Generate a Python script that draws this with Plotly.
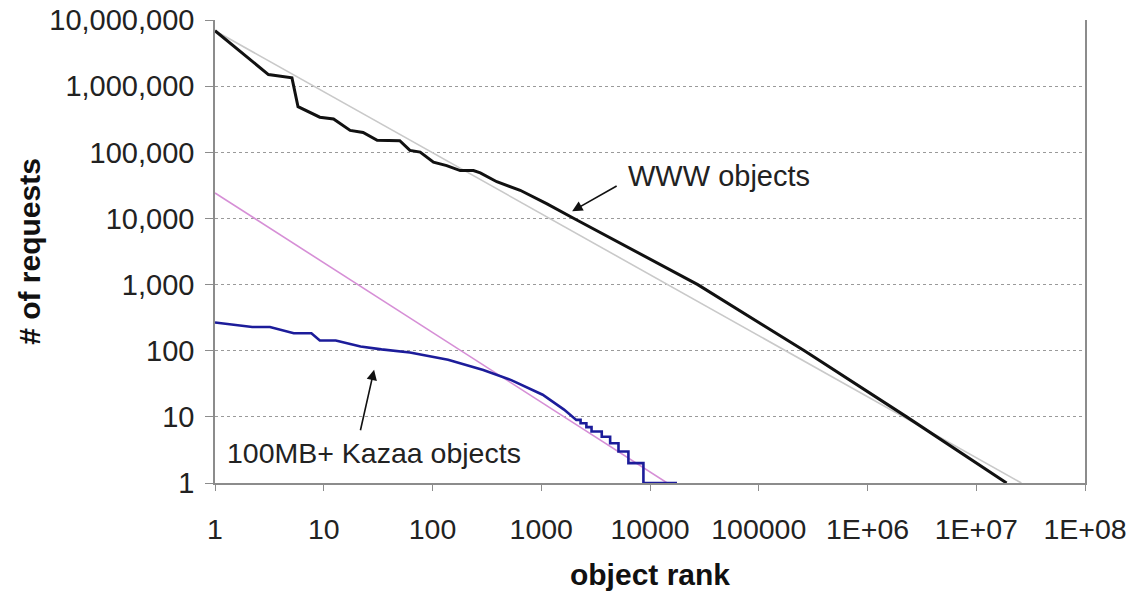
import plotly.graph_objects as go

# ---------------- data ----------------
www_rank = [1, 3.1, 5.1, 5.8, 9.2, 12.3, 17.5, 23, 31, 50, 62, 77, 102, 135, 180, 238, 275,
            390, 640, 1120, 2000, 3480, 27500, 263000, 2290000, 19000000]
www_requests = [6.9e6, 1.5e6, 1.34e6, 4.9e5, 3.4e5, 3.2e5, 2.15e5, 2.0e5, 1.52e5, 1.5e5, 1.07e5,
                1.01e5, 7.1e4, 6.3e4, 5.3e4, 5.3e4, 4.9e4, 3.6e4, 2.67e4, 1.68e4, 1.0e4, 6150,
                1000, 100, 10, 1]

www_fit_rank = [1, 2.6e7]
www_fit_requests = [6.9e6, 1]

kazaa_rank = [1, 2.2, 3.2, 5.3, 7.7, 9.2, 12.9, 21.8, 34, 62, 139, 293, 530, 1030, 1620,
              2100, 2300, 2300, 2600, 2600, 2900, 2900, 3600, 3600, 4300, 4300, 5130, 5130,
              6330, 6330, 8700, 8700, 17700]
kazaa_requests = [268, 228, 228, 184, 184, 143, 143, 116, 105, 94, 73, 51, 36, 21.6, 12.9,
                  9, 9, 8, 8, 7, 7, 6, 6, 5, 5, 4, 4, 3, 3, 2, 2, 1, 1]

kazaa_fit_rank = [1, 14400]
kazaa_fit_requests = [24300, 1]

x_tickvals = [1, 10, 100, 1000, 1e4, 1e5, 1e6, 1e7, 1e8]
x_ticktext = ["1", "10", "100", "1000", "10000", "100000", "1E+06", "1E+07", "1E+08"]
y_tickvals = [1, 10, 100, 1000, 1e4, 1e5, 1e6, 1e7]
y_ticktext = ["1", "10", "100", "1,000", "10,000", "100,000", "1,000,000", "10,000,000"]

FONT = "Liberation Sans, Arial, Helvetica, sans-serif"
TXT = "#222222"

fig = go.Figure()
fig.add_trace(go.Scatter(x=www_fit_rank, y=www_fit_requests, mode="lines",
                         line=dict(color="#c9c9c9", width=1.6), hoverinfo="skip"))
fig.add_trace(go.Scatter(x=kazaa_fit_rank, y=kazaa_fit_requests, mode="lines",
                         line=dict(color="#d68fd6", width=1.6), hoverinfo="skip"))
fig.add_trace(go.Scatter(x=kazaa_rank, y=kazaa_requests, mode="lines",
                         line=dict(color="#1c1c9a", width=2.6)))
fig.add_trace(go.Scatter(x=www_rank, y=www_requests, mode="lines",
                         line=dict(color="#111111", width=3)))

# annotations (positions in log10 axis units)
fig.add_annotation(x=3.284, y=4.11, xref="x", yref="y", text="", showarrow=True,
                   ax=46, ay=-26, arrowhead=2, arrowsize=1.3, arrowwidth=1.6, arrowcolor="#111")
fig.add_annotation(x=4.637, y=4.638, xref="x", yref="y", text="WWW objects", showarrow=False,
                   font=dict(family=FONT, size=29, color=TXT))
fig.add_annotation(x=1.463, y=1.712, xref="x", yref="y", text="", showarrow=True,
                   ax=-14, ay=62, arrowhead=2, arrowsize=1.3, arrowwidth=1.6, arrowcolor="#111")
fig.add_annotation(x=1.463, y=0.46, xref="x", yref="y", text="100MB+ Kazaa objects",
                   showarrow=False, font=dict(family=FONT, size=28.5, color=TXT))

fig.update_layout(
    width=1142, height=592,
    margin=dict(l=215, r=57, t=19.5, b=108.5, autoexpand=False),
    paper_bgcolor="white", plot_bgcolor="white",
    showlegend=False,
    font=dict(family=FONT, color=TXT),
)
fig.update_xaxes(
    type="log", range=[0, 8], automargin=False,
    tickvals=x_tickvals, ticktext=x_ticktext,
    tickfont=dict(family=FONT, size=28.5, color=TXT),
    showgrid=False, zeroline=False,
    showline=True, linecolor="#8c8c8c", linewidth=1.5,
    ticks="outside", ticklen=6, tickcolor="#8c8c8c", tickwidth=1,
    ticklabelstandoff=14, ticklabeloverflow="allow",
    title=dict(text="<b>object rank</b>", font=dict(family=FONT, size=30, color="#111"), standoff=20),
)
fig.update_yaxes(
    type="log", range=[0, 7.0015], automargin=False,
    tickvals=y_tickvals, ticktext=y_ticktext,
    tickfont=dict(family=FONT, size=29, color=TXT),
    showgrid=True, gridcolor="#9a9a9a", griddash="dot", gridwidth=1.3,
    zeroline=False,
    showline=True, linecolor="#8c8c8c", linewidth=1.5, mirror=True,
    ticks="outside", ticklen=8, tickcolor="#8c8c8c", tickwidth=1,
    ticklabelstandoff=5, ticklabeloverflow="allow",
    title=dict(text="<b># of requests</b>", font=dict(family=FONT, size=30, color="#111"), standoff=0),
)

# remove the browser's default 8px body margin so the figure fills the window exactly
fig.write_html("out.html", config={"displayModeBar": False},
               post_script="document.body.style.margin='0';")
